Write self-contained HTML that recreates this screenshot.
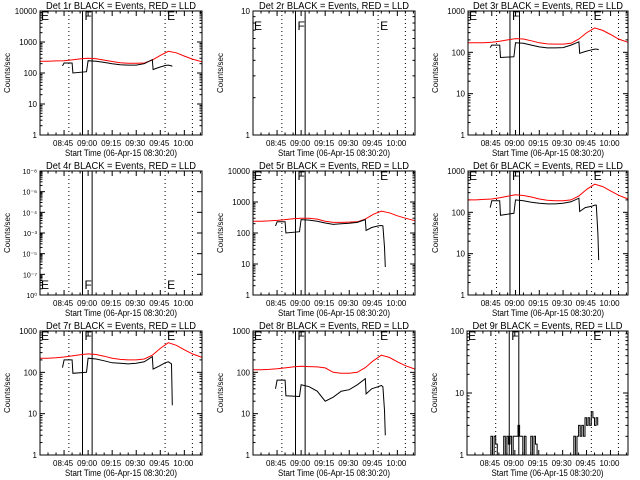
<!DOCTYPE html>
<html><head><meta charset="utf-8"><style>
html,body{margin:0;padding:0;background:#fff;}
svg{display:block;font-family:"Liberation Sans",sans-serif;}
</style></head><body>
<svg id="c" width="640" height="480" xmlns="http://www.w3.org/2000/svg"></svg>
<script>
// shared time grids (minutes after 08:30:20)
const tRed = [0,5,10,15,20,25,30,35,40,45,50,55,60,65,70,75,80,85,90,95,101];
const tBlack = [14,15,20,20.5,29,30,35,40,45,50,55,60,65,70,70.5,74,78,80,81,82,82.5];
const xTickLabels = ["08:45","09:00","09:15","09:30","09:45","10:00"];
const xTickTimes = [15,30,45,60,75,90];
const solidTimes = [26.5,32.5];
const dottedTimes = [18,78,95];
// series values
const red1 = [240,240,245,250,265,285,300,290,260,235,215,205,205,210,260,370,500,450,350,280,230];
const black1 = [170,210,210,100,110,250,240,220,200,185,180,180,200,270,130,150,175,180,175,170,165];
const red3 = [170,170,170,175,185,200,215,210,190,170,160,158,158,165,210,300,390,340,270,210,175];
const black3 = [130,150,150,75,78,170,165,150,135,128,128,130,150,180,95,105,115,120,120,118,115];
const red5 = [240,240,245,255,270,290,300,300,280,240,220,220,225,230,280,400,510,450,360,300,250];
const black5 = [170,230,230,100,110,270,260,240,210,190,200,205,220,270,120,150,170,175,170,35,8];
const red6 = [200,200,205,210,225,245,265,255,235,210,195,190,190,200,250,360,480,420,330,260,210];
const black6 = [130,190,190,85,95,200,190,175,165,160,160,165,180,220,105,130,140,150,150,30,7];
const red7 = [220,220,225,235,250,265,280,270,245,220,205,200,200,210,260,380,520,450,350,280,230];
const black7 = [130,200,200,95,100,220,210,190,170,165,160,165,180,240,120,140,170,180,170,160,16];
const red8 = [115,115,118,122,128,135,140,138,135,128,100,95,95,100,130,190,260,230,180,145,120];
const black8 = [40,65,65,27,26,50,45,35,20,25,35,38,50,70,30,40,45,48,45,12,3];
const tNoise = [14,15,16,17,18,19,22,23,24,25,26,27,28,29,30,31,32,33,34,35,36,37,38,40,41,42,43,44,66,67,68,69,70,71,72,73,74,75,76,77,78,79,80,81,82];
const black9 = [1,2,1,2,1.5,1,1,2,1,2,1.5,2,1,2,2,2,3,2,2,1,2,1,1,2,1,2,1.5,1,1,2,1,2,3,2,3,2,4,3,4,3,5,4,3,4,3];

const NS="http://www.w3.org/2000/svg";
const svg=document.getElementById('c');
function mk(tag,attrs,parent){const e=document.createElementNS(NS,tag);for(const k in attrs)e.setAttribute(k,attrs[k]);(parent||svg).appendChild(e);return e;}

const panels=[
 {n:1,col:0,row:0,lo:0,hi:4,left:40,right:202,red:red1,black:black1,bt:tBlack,lt:0},
 {n:2,col:1,row:0,lo:0,hi:1,left:253,right:415,red:null,black:null,lt:10},
 {n:3,col:2,row:0,lo:0,hi:3,left:468,right:628,red:red3,black:black3,bt:tBlack,lt:0},
 {n:4,col:0,row:1,lo:0,hi:6,left:40,right:202,red:null,black:null,lt:100,weird:true},
 {n:5,col:1,row:1,lo:0,hi:4,left:253,right:415,red:red5,black:black5,bt:tBlack,lt:0},
 {n:6,col:2,row:1,lo:0,hi:3,left:468,right:628,red:red6,black:black6,bt:tBlack,lt:0},
 {n:7,col:0,row:2,lo:0,hi:3,left:40,right:202,red:red7,black:black7,bt:tBlack,lt:0},
 {n:8,col:1,row:2,lo:0,hi:3,left:253,right:415,red:red8,black:black8,bt:tBlack,lt:0},
 {n:9,col:2,row:2,lo:0,hi:2,left:467,right:628,red:null,black:black9,bt:tNoise,lt:0}
];

panels.forEach(p=>{
 const top=11+p.row*160, bot=135+p.row*160;
 const g=mk('g',{});
 
 
 const xs=t=>p.left+(p.right-p.left)*t/101;
 const ys=v=>bot-(Math.log10(Math.max(v,1e-9))-p.lo)/(p.hi-p.lo)*(bot-top);
 const cx=(p.left+p.right)/2;
 const ti=mk('text',{x:cx,y:top-2,'text-anchor':'middle','font-size':'10',textLength:'150',lengthAdjust:'spacingAndGlyphs'},g);
 ti.textContent='Det '+p.n+'r BLACK = Events, RED = LLD';
 
 
 const yt=mk('text',{x:0,y:0,'text-anchor':'middle','font-size':'8',transform:'translate('+(p.left-30)+','+((top+bot)/2)+') rotate(-90)'},g);
 yt.textContent='Counts/sec';
 
 
 xTickTimes.forEach((t,i)=>{
  const l=mk('text',{x:xs(t)-1,y:bot+11,'text-anchor':'middle','font-size':'8'},g);
  l.textContent=xTickLabels[i];
  
  
  mk('line',{x1:xs(t),x2:xs(t),y1:bot,y2:bot-5,stroke:'#000'},g);
  mk('line',{x1:xs(t),x2:xs(t),y1:top,y2:top+5,stroke:'#000'},g);
 });
 for(let t=5;t<101;t+=5){if(t%15){mk('line',{x1:xs(t),x2:xs(t),y1:bot,y2:bot-2.5,stroke:'#000'},g);mk('line',{x1:xs(t),x2:xs(t),y1:top,y2:top+2.5,stroke:'#000'},g);}}
 const xl=mk('text',{x:cx,y:bot+21,'text-anchor':'middle','font-size':'9',textLength:'112',lengthAdjust:'spacingAndGlyphs'},g);
 xl.textContent='Start Time (06-Apr-15 08:30:20)';
 
 
 if(p.weird){
  const wl=['10\u207B\u2078','10\u207B\u2076','10\u207B\u2074','10\u207B\u00B3','10\u207B\u2075','10\u207B\u2077','10\u2070'];
  wl.forEach((s,i)=>{const y=top+(bot-top)*i/6;
   const l=mk('text',{x:p.left-3,y:y+3,'text-anchor':'end','font-size':'7'},g);l.textContent=s;
   
   
   mk('line',{x1:p.left,x2:p.left+5,y1:y,y2:y,stroke:'#000'},g);mk('line',{x1:p.right,x2:p.right-5,y1:y,y2:y,stroke:'#000'},g);
   for(let k=2;k<10;k++){if(i<6){const yy=y+(bot-top)/6*(1-Math.log10(k));mk('line',{x1:p.left,x2:p.left+2.5,y1:yy,y2:yy,stroke:'#000'},g);}}
  });
 } else {
  for(let e=p.lo;e<=p.hi;e++){
   const y=ys(Math.pow(10,e));
   const l=mk('text',{x:p.left-3,y:y+3,'text-anchor':'end','font-size':'8'},g);
   l.textContent=String(Math.pow(10,e));
   
   
   mk('line',{x1:p.left,x2:p.left+5,y1:y,y2:y,stroke:'#000'},g);
   mk('line',{x1:p.right,x2:p.right-5,y1:y,y2:y,stroke:'#000'},g);
   if(e<p.hi)for(let k=2;k<10;k++){const yy=ys(k*Math.pow(10,e));mk('line',{x1:p.left,x2:p.left+2.5,y1:yy,y2:yy,stroke:'#000'},g);mk('line',{x1:p.right,x2:p.right-2.5,y1:yy,y2:yy,stroke:'#000'},g);}
  }
 }
 dottedTimes.forEach(t=>{const m=mk('line',{x1:xs(t),x2:xs(t),y1:top,y2:bot,stroke:'#000','stroke-dasharray':'1,3'},g);
  });
 solidTimes.forEach(t=>{const m=mk('line',{x1:xs(t),x2:xs(t),y1:top,y2:bot,stroke:'#000','stroke-width':'1'},g);
  });
 const ly=p.weird?bot-6:top+9+p.lt;
 [['E',p.left+1],['F',xs(solidTimes[0])+2],['E',xs(dottedTimes[1])+2]].forEach(a=>{
  const l=mk('text',{x:a[1],y:ly,'font-size':'12'},g);l.textContent=a[0];
  
 });
 if(p.red){
  const pl=mk('polyline',{fill:'none',stroke:'#ff0000','stroke-width':'1',points:tRed.map((t,i)=>xs(t).toFixed(1)+','+ys(p.red[i]).toFixed(1)).join(' ')},g);
  
 }
 if(p.black){
  let pts=[];
  p.bt.forEach((t,i)=>{const x=xs(t),y=ys(p.black[i]);if(p.n===9&&i>0)pts.push(x.toFixed(1)+','+ys(p.black[i-1]).toFixed(1));pts.push(x.toFixed(1)+','+y.toFixed(1));});
  const pl=mk('polyline',{fill:'none',stroke:'#000','stroke-width':'1',points:pts.join(' ')},g);
  
 }
 const box=mk('rect',{x:p.left,y:top,width:p.right-p.left,height:bot-top,fill:'none',stroke:'#000'},g);
 
});
</script>
</body></html>
